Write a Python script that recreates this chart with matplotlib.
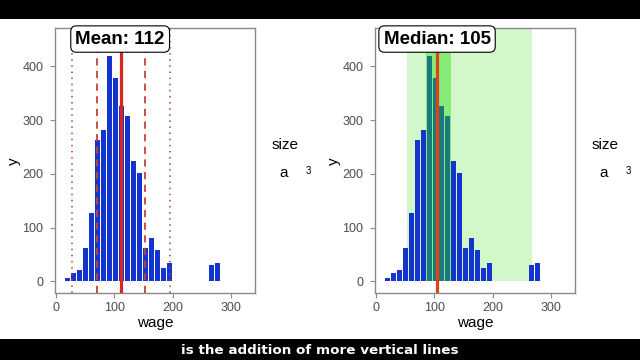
import matplotlib
matplotlib.use("Agg")
import matplotlib.pyplot as plt
import matplotlib.patches as patches

plt.rcParams['font.family'] = ['Liberation Sans', 'DejaVu Sans']

# histogram of wage (30 bins, ggplot style)
binStart = 20.09
binWidth = 10.284
counts = [6, 15, 22, 63, 128, 263, 282, 420, 379, 326, 307, 225, 201, 62, 80, 59, 25, 34,
          0, 0, 0, 0, 0, 0, 31, 35, 0, 0, 1, 1]
centers = [binStart + i * binWidth for i in range(len(counts))]

meanWage = 111.7
sdWage = 41.7
medianWage = 104.9
lowBand = [52.6, 268.0]
iqrBand = [85.4, 128.7]

xTicks = [0, 100, 200, 300]
yTicks = [0, 100, 200, 300, 400]
caption = "is the addition of more vertical lines"

barColor = '#1434d0'
grey = '#4d4d4d'

fig = plt.figure(figsize=(6.4, 3.6), dpi=100)
fig.patch.set_facecolor('white')

# letterbox bands of the video frame
fig.patches.append(patches.Rectangle((0, 1 - 19 / 360), 1, 19 / 360, transform=fig.transFigure,
                                     facecolor='black', edgecolor='none', zorder=0))
fig.patches.append(patches.Rectangle((0, 0), 1, 21 / 360, transform=fig.transFigure,
                                     facecolor='black', edgecolor='none', zorder=0))
fig.text(0.5, 10 / 360, caption, color='white', fontsize=9.7, fontweight='bold',
         family='DejaVu Sans', ha='center', va='center')

axW = 200 / 640
axB = (360 - 293.3) / 360
axH = 265 / 360


def setup(ax, xOff):
    ax.set_xlim(-1, 342)
    ax.set_ylim(-22, 471)
    ax.set_xticks(xTicks)
    ax.set_yticks(yTicks)
    for s in ax.spines.values():
        s.set_color('#8a8a8a')
        s.set_linewidth(1.0)
    ax.tick_params(colors='#8a8a8a', labelcolor=grey, labelsize=9, length=3.5, width=0.8)
    ax.tick_params(axis='y', pad=5)
    ax.tick_params(axis='x', pad=3)
    ax.set_xlabel("wage", fontsize=11, labelpad=1)
    ax.set_ylabel("y", fontsize=11, labelpad=1)
    ax.bar(centers, counts, width=binWidth * 0.72, color=barColor, zorder=2)
    # legend remnants
    fig.text((xOff + 272) / 640, 1 - 145 / 360, "size", fontsize=11, ha='left', va='center')
    fig.text((xOff + 284) / 640, 1 - 173 / 360, "a", fontsize=11, ha='center', va='center')
    fig.text((xOff + 308) / 640, 1 - 171 / 360, "3", fontsize=7, ha='center', va='center')


boxStyle = dict(boxstyle='round,pad=0.25,rounding_size=0.3', fc='white', ec='black', lw=0.8)

# mean panel
ax1 = fig.add_axes([55.3 / 640, axB, axW, axH])
setup(ax1, 0)
ax1.axvline(meanWage, color='#d9261c', lw=2.3, zorder=4)
for k in [-1, 1]:
    ax1.axvline(meanWage + k * sdWage, color='#c8423a', lw=1.3, ls=(0, (4, 3)), zorder=3)
    ax1.axvline(meanWage + 2 * k * sdWage, color='#a8443a', lw=1.1, ls=(0, (1, 3)), zorder=3)
ax1.text(meanWage - 1.5, 451, "Mean: %d" % round(meanWage), fontsize=13.5, fontweight='bold',
         ha='center', va='center', zorder=6, bbox=boxStyle)

# median panel
ax2 = fig.add_axes([375.3 / 640, axB, axW, axH])
setup(ax2, 320)
ax2.add_patch(patches.Rectangle((lowBand[0], 0), lowBand[1] - lowBand[0], 500,
                                facecolor='#d2f8ca', edgecolor='none', zorder=1))
ax2.add_patch(patches.Rectangle((iqrBand[0], 0), iqrBand[1] - iqrBand[0], 500,
                                facecolor=(0.13, 0.85, 0.05), alpha=0.42, edgecolor='none', zorder=3))
ax2.axvline(medianWage, color='#e0421a', lw=2.3, zorder=4)
ax2.text(medianWage, 451, "Median: %d" % round(medianWage), fontsize=13.5, fontweight='bold',
         ha='center', va='center', zorder=6, bbox=boxStyle)

fig.savefig("out.png", dpi=100)
